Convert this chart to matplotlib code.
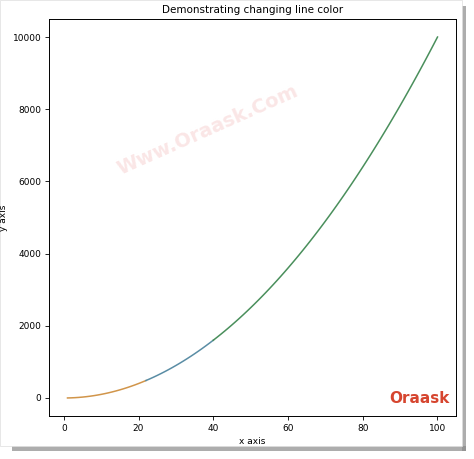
import numpy as np
import matplotlib
matplotlib.use("Agg")
import matplotlib.pyplot as plt
from matplotlib.patches import Rectangle

# Data
x = np.arange(1, 101)
y = x ** 2
orange_end = 22
blue_end = 40

title = "Demonstrating changing line color"
xlabel = "x axis"
ylabel = "y axis"

W, H = 474, 459
fig = plt.figure(figsize=(W / 100, H / 100), dpi=100)
fig.patch.set_facecolor("white")

# screenshot-like drop shadow
fig.patches.append(Rectangle((462 / W, 1 - 451 / H), 4 / W, 445 / H, transform=fig.transFigure,
                             facecolor="#8a8a8a", edgecolor="none", zorder=-2, alpha=0.7))
fig.patches.append(Rectangle((12 / W, 1 - 451 / H), 454 / W, 5 / H, transform=fig.transFigure,
                             facecolor="#8a8a8a", edgecolor="none", zorder=-2, alpha=0.7))
fig.patches.append(Rectangle((0, 1 - 446 / H), 462 / W, 446 / H, transform=fig.transFigure,
                             facecolor="white", edgecolor="#dddddd", lw=0.5, zorder=-1))

ax = fig.add_axes([49 / W, 1 - 416 / H, (456 - 49) / W, (416 - 19) / H])

m1 = x <= orange_end
m2 = (x >= orange_end) & (x <= blue_end)
m3 = x >= blue_end
ax.plot(x[m1], y[m1], color="#d1954a", lw=1.1)
ax.plot(x[m2], y[m2], color="#5a8da5", lw=1.1)
ax.plot(x[m3], y[m3], color="#4a8f5c", lw=1.1)

ax.set_title(title, fontsize=7.5, pad=4)
ax.set_xlabel(xlabel, fontsize=6.5, labelpad=3)
ax.set_ylabel(ylabel, fontsize=6.5, labelpad=3)
ax.tick_params(labelsize=6.5, length=3, width=0.6, pad=2.5)
for s in ax.spines.values():
    s.set_linewidth(0.7)
ax.set_xticks([0, 20, 40, 60, 80, 100])
ax.set_yticks([0, 2000, 4000, 6000, 8000, 10000])

# watermarks
ax.text(0.39, 0.72, "Www.Oraask.Com", transform=ax.transAxes, rotation=24,
        fontsize=14, fontweight="bold", color="#f4c0c0", alpha=0.4,
        ha="center", va="center")
ax.text(0.985, 0.045, "Oraask", transform=ax.transAxes, fontsize=11,
        fontweight="bold", color="#d6452f", ha="right", va="center")

fig.savefig("out.png", dpi=100)
